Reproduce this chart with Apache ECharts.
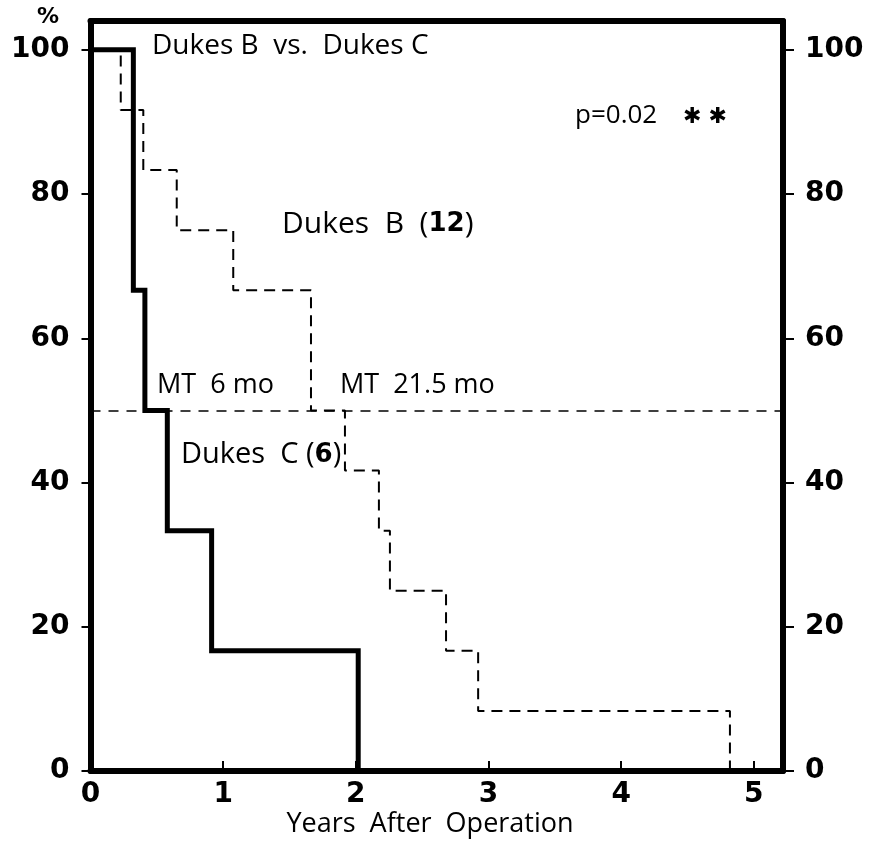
<!DOCTYPE html>
<html>
<head>
<meta charset="utf-8">
<script src="https://cdn.jsdelivr.net/npm/echarts@6/dist/echarts.min.js"></script>
<style>
  html, body { margin: 0; padding: 0; background: #fff; }
  #chart { width: 883px; height: 841px; }
</style>
</head>
<body>
<div id="chart"></div>
<script>
// Dukes B (12 patients) - dashed curve
const dukesBYears = [0, 0.228, 0.398, 0.65, 1.076, 1.662, 1.918, 2.174, 2.257, 2.68, 2.922, 4.82];
const dukesBSurv = [100, 91.67, 83.33, 75, 66.67, 50, 41.67, 33.33, 25, 16.67, 8.33, 0];
// Dukes C (6 patients) - solid curve
const dukesCYears = [0, 0.323, 0.41, 0.579, 0.913, 2.018];
const dukesCSurv = [100, 66.67, 50, 33.33, 16.67, 0];
// median line
const medianLevel = 50;
// axis ticks
const xTicks = [0, 1, 2, 3, 4, 5];
const yTicks = [0, 20, 40, 60, 80, 100];
const xMax = 5.22;
const yMax = 104;

const chart = echarts.init(document.getElementById("chart"));

const tickFont = { fontFamily: "DejaVu Sans", fontWeight: "bold", fontSize: 28, color: "#000" };
const txtFont = "'Open Sans', sans-serif";

function pairs(xs, ys) {
  return xs.map((x, i) => [x, ys[i]]);
}

// plain text labels, positioned by their left edge and vertical middle
function label(x, y, text, size, rich) {
  return {
    type: "text",
    x: x,
    y: y,
    style: {
      text: text,
      font: size + "px " + txtFont,
      fill: "#000",
      verticalAlign: "middle",
      rich: rich,
    },
  };
}

const boldNum = (size) => ({ b: { fontFamily: "DejaVu Sans", fontWeight: "bold", fontSize: size, fill: "#000" } });

const option = {
  backgroundColor: "#fff",
  animation: false,
  grid: { left: 90.5, right: 100, top: 21, bottom: 70 },
  xAxis: [
    {
      type: "value",
      min: 0,
      max: xMax,
      position: "bottom",
      splitLine: { show: false },
      axisLine: { show: true, onZero: false, lineStyle: { color: "#000", width: 6 } },
      axisTick: { show: true, inside: true, length: 10, customValues: xTicks, lineStyle: { color: "#000", width: 2 } },
      axisLabel: Object.assign({ margin: 10, customValues: xTicks }, tickFont),
    },
    {
      type: "value",
      min: 0,
      max: xMax,
      position: "top",
      splitLine: { show: false },
      axisLine: { show: true, onZero: false, lineStyle: { color: "#000", width: 6 } },
      axisTick: { show: false },
      axisLabel: { show: false },
    },
  ],
  yAxis: [
    {
      type: "value",
      min: 0,
      max: yMax,
      position: "left",
      splitLine: { show: false },
      axisLine: { show: true, onZero: false, lineStyle: { color: "#000", width: 6 } },
      axisTick: { show: true, length: 9, customValues: yTicks, lineStyle: { color: "#000", width: 2 } },
      axisLabel: Object.assign({ margin: 21, customValues: yTicks }, tickFont),
    },
    {
      type: "value",
      min: 0,
      max: yMax,
      position: "right",
      splitLine: { show: false },
      axisLine: { show: true, onZero: false, lineStyle: { color: "#000", width: 6 } },
      axisTick: { show: true, length: 11, customValues: yTicks, lineStyle: { color: "#000", width: 2 } },
      axisLabel: Object.assign({ margin: 22, customValues: yTicks }, tickFont),
    },
  ],
  series: [
    {
      name: "Dukes B",
      type: "line",
      step: "end",
      symbol: "none",
      data: pairs(dukesBYears, dukesBSurv),
      lineStyle: { color: "#000", width: 2, type: [11, 7] },
      z: 2,
      markLine: {
        silent: true,
        symbol: "none",
        label: { show: false },
        lineStyle: { color: "#000", width: 1.5, type: [10, 8] },
        data: [{ yAxis: medianLevel }],
      },
    },
    {
      name: "Dukes C",
      type: "line",
      step: "end",
      symbol: "none",
      data: pairs(dukesCYears, dukesCSurv),
      lineStyle: { color: "#000", width: 5, join: "miter" },
      z: 3,
    },
  ],
  graphic: [
    { type: "text", x: 37, y: 17, style: { text: "%", font: "bold 22px 'DejaVu Sans'", fill: "#000", verticalAlign: "middle" } },
    label(152, 46, "Dukes B  vs.  Dukes C", 28),
    label(575, 116, "p=0.02", 26),
    { type: "text", x: 683, y: 117, style: { text: "✱ ✱", font: "22px 'DejaVu Sans'", fill: "#000", verticalAlign: "middle" } },
    label(282, 224, "Dukes  B  ({b|12})", 30, boldNum(26)),
    label(157, 385, "MT  6 mo", 27),
    label(340, 385, "MT  21.5 mo", 27),
    label(181, 455, "Dukes  C ({b|6})", 29, boldNum(26)),
    {
      type: "text",
      x: 430,
      y: 824,
      style: { text: "Years  After  Operation", font: "27px " + txtFont, fill: "#000", align: "center", verticalAlign: "middle" },
    },
  ],
};

chart.setOption(option);
window.addEventListener("resize", function () {
  chart.resize();
});
</script>
</body>
</html>
